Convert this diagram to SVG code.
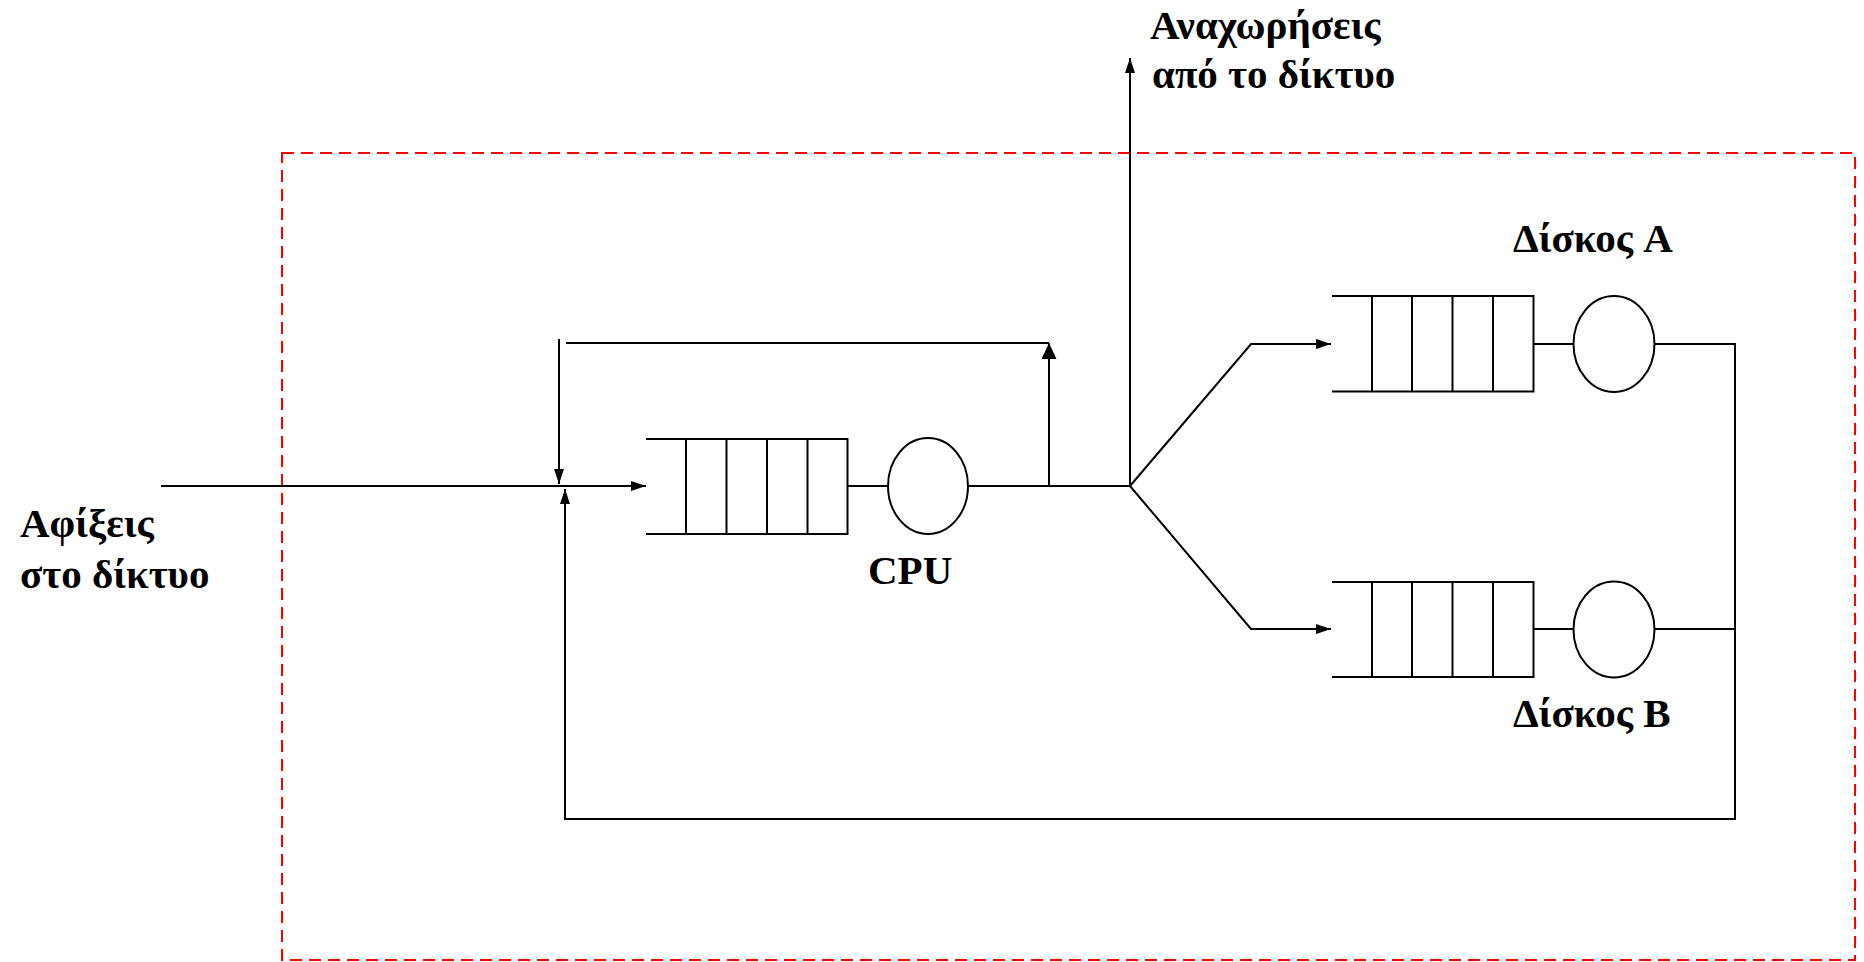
<svg xmlns="http://www.w3.org/2000/svg" width="1864" height="962" viewBox="0 0 1864 962">
<style>
.ln{fill:none;stroke:#000;stroke-width:2}
.sv{fill:#fff;stroke:#000;stroke-width:2}
.t{font-family:"Liberation Serif","Times New Roman",serif;font-weight:bold;font-size:41px;fill:#000}
</style>
<defs>
<marker id="arr" markerUnits="userSpaceOnUse" markerWidth="16" markerHeight="10" refX="15" refY="5" orient="auto">
<path d="M0,0 L15,5 L0,10 z" fill="#000"/>
</marker>
<marker id="arrBig" markerUnits="userSpaceOnUse" markerWidth="17" markerHeight="15" refX="16" refY="7.5" orient="auto">
<path d="M0,0 L16,7.5 L0,15 z" fill="#000"/>
</marker>
</defs>
<rect id="boundary" x="282" y="153" width="1573" height="807" fill="none" stroke="#f00" stroke-width="2" stroke-dasharray="12 7"/>
<g id="connectors">
<path class="ln" d="M161,486 H646" marker-end="url(#arr)"/>
<path class="ln" d="M847.5,486 H888"/>
<path class="ln" d="M968,486 H1130"/>
<path class="ln" d="M1049,486 V343" marker-end="url(#arrBig)"/>
<path class="ln" d="M566,343 H1049"/>
<path class="ln" d="M559,339 V484" marker-end="url(#arr)"/>
<path class="ln" d="M1130,486 V58" marker-end="url(#arr)"/>
<path class="ln" d="M1130,486 L1251,344 H1331" marker-end="url(#arr)"/>
<path class="ln" d="M1130,486 L1251,629 H1331" marker-end="url(#arr)"/>
<path class="ln" d="M1533.5,344 H1574"/>
<path class="ln" d="M1533.5,629 H1574"/>
<path class="ln" d="M1654.5,629 H1735"/>
<path class="ln" d="M1654.5,344 H1735 V819 H565 V489" marker-end="url(#arr)"/>
</g>
<g id="cpu">
<path class="ln" d="M646,439 H847.5 V534 H646 M686,439 V534 M726.5,439 V534 M767,439 V534 M807.5,439 V534"/>
<ellipse class="sv" cx="928" cy="486" rx="40" ry="48"/>
<text class="t" x="868" y="584">CPU</text>
</g>
<g id="diskA">
<path class="ln" d="M1332,296 H1533.5 V391.5 H1332 M1372,296 V391.5 M1412,296 V391.5 M1452.5,296 V391.5 M1493,296 V391.5"/>
<ellipse class="sv" cx="1614" cy="344" rx="40.5" ry="48"/>
<text class="t" x="1513" y="252">Δίσκος A</text>
</g>
<g id="diskB">
<path class="ln" d="M1332,582 H1533.5 V677 H1332 M1372,582 V677 M1412,582 V677 M1452.5,582 V677 M1493,582 V677"/>
<ellipse class="sv" cx="1614" cy="629.5" rx="40.5" ry="48"/>
<text class="t" x="1513" y="727">Δίσκος B</text>
</g>
<g id="arrivals">
<text class="t" x="20" y="537">Αφίξεις</text>
<text class="t" x="20" y="588">στο δίκτυο</text>
</g>
<g id="departures">
<text class="t" x="1150" y="39">Αναχωρήσεις</text>
<text class="t" x="1152" y="88">από το δίκτυο</text>
</g>
</svg>
